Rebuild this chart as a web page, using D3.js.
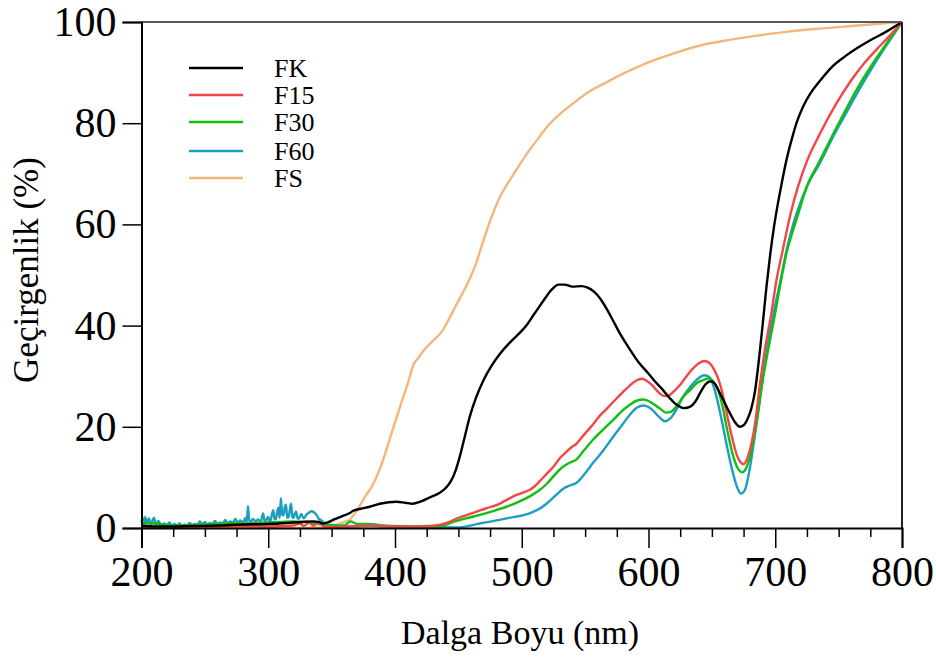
<!DOCTYPE html>
<html>
<head>
<meta charset="utf-8">
<script src="https://cdn.jsdelivr.net/npm/d3@7"></script>
<style>
  html, body { margin: 0; padding: 0; background: #fff; }
  svg text { font-family: "Liberation Serif", "Times New Roman", serif; fill: #000; }
</style>
</head>
<body>
<svg id="chart" width="936" height="657"></svg>
<script>
// ---------- DATA ----------
const seriesNames = ["FK", "F15", "F30", "F60", "FS"];
const seriesColors = ["#000000", "#f54646", "#12be12", "#1c9ec0", "#f3b67c"];
const xTicks = [200, 300, 400, 500, 600, 700, 800];
const yTicks = [0, 20, 40, 60, 80, 100];

// [wavelength nm, transmittance %]
const dataFK = [[200,0.4],[220,0.3],[240,0.4],[260,0.5],[280,0.7],[300,0.8],[315,1.0],[327,1.2],[335,1.3],[340,1.2],[343,0.9],[347,1.1],[352,1.7],[358,2.3],[364,2.9],[367,3.4],[373,3.8],[380,4.2],[388,4.8],[395,5.1],[401,5.2],[408,5.0],[414,4.8],[420,5.2],[428,6.1],[435,6.9],[440,7.9],[444,9.2],[448,11.5],[451,14],[455,18],[459,22],[464,25.8],[470,29.3],[476,32],[483,34.5],[490,36.5],[497,38.2],[503,39.8],[509,42],[514,43.8],[519,45.6],[524,47.2],[529,48.1],[534,48.1],[540,47.7],[547,47.8],[552,47.5],[557,46.7],[562,45.3],[567,43.3],[572,41],[578,38.2],[585,35.4],[592,32.8],[599,30.8],[605,29],[611,27.4],[617,25.6],[623,24.2],[628,23.7],[633,24.0],[637,25],[641,26.8],[645,28.4],[649,29],[652,28.6],[656,26.8],[660,24.8],[664,22.8],[668,21],[672,20],[675,20.3],[678,21.5],[681,23.5],[684,27],[687,33],[690,40],[693,47.5],[696,54],[699,59.5],[702,64],[705,68],[709,72.9],[713,76.8],[717,80.2],[722,83.3],[728,86],[735,88.3],[745,91.2],[755,93.2],[765,94.9],[775,96.4],[787,98],[800,100]];

const dataF15 = [[200,0.3],[220,0.1],[240,0.2],[260,0.3],[280,0.4],[300,0.3],[310,0.4],[320,0.5],[325,0.9],[328,0.4],[332,1.0],[336,0.5],[340,1.1],[344,0.3],[350,0.2],[370,0.4],[380,0.5],[390,0.4],[400,0.3],[414,0.3],[425,0.4],[435,0.6],[442,1.1],[449,1.9],[457,2.6],[464,3.2],[472,3.9],[480,4.5],[487,5.4],[493,6.2],[500,6.9],[506,7.5],[510,8.2],[514,9.2],[520,10.8],[525,12.1],[530,13.8],[535,15],[540,16.1],[543,16.6],[547,17.8],[551,19],[556,20.4],[562,22.3],[568,23.8],[574,25.4],[580,26.9],[585,28.1],[590,29.1],[595,29.5],[599,29.0],[603,28.2],[608,26.8],[612,26.1],[616,26.2],[620,27.0],[625,28.3],[630,30],[635,31.5],[640,32.6],[644,33.0],[648,32.6],[652,31.2],[655,29.5],[658,27],[661,23.5],[664,20],[667,16.8],[670,14.2],[673,12.9],[675,12.6],[677,13.2],[680,15.4],[684,20.5],[688,28.6],[692,35.5],[697,42.5],[701,49],[706,55],[712,62],[718,67.5],[725,72.5],[735,77.8],[748,83.8],[760,88.5],[770,91.8],[780,94.6],[790,97.2],[800,100]];

const dataF30 = [[200,1.0],[210,0.9],[220,0.6],[230,0.5],[240,0.6],[250,0.7],[260,0.8],[270,1.0],[280,0.9],[290,1.0],[300,1.1],[310,1.2],[320,1.3],[330,1.2],[340,0.8],[350,0.6],[360,0.5],[365,1.3],[370,0.8],[380,0.8],[390,0.5],[400,0.4],[420,0.3],[435,0.3],[446,1.2],[456,1.9],[467,2.6],[478,3.4],[488,4.2],[497,5.1],[506,6.2],[513,7.3],[520,8.8],[526,10.5],[531,11.8],[537,12.8],[543,13.5],[549,15.3],[556,17.4],[564,19.4],[572,21.3],[579,23.1],[585,24.3],[591,25.2],[596,25.4],[600,25.1],[604,24.5],[609,23.6],[614,22.8],[618,23.0],[622,24.0],[627,25.8],[633,27.3],[638,28.6],[643,29.2],[648,29.6],[652,28.6],[655,27.2],[658,24.5],[662,19.5],[666,15],[670,12],[674,11],[677,11.8],[680,14],[683,17.5],[686,22],[690,29],[695,36],[700,42.5],[705,49.5],[709,54.5],[713,58],[718,62],[725,67.5],[735,72.5],[746,78],[757,83.3],[767,87.8],[777,91.8],[788,95.8],[800,100]];

const dataF60 = [[200,1.2],[201,2.0],[202,0.6],[203,2.2],[204,0.8],[205,1.5],[206,1.9],[207,0.6],[208,1.0],[209,1.7],[210,2.0],[211,0.8],[212,0.7],[213,1.4],[214,1.2],[215,0.5],[216,0.6],[218,0.9],[220,0.5],[222,1.1],[224,0.4],[226,0.8],[228,0.5],[230,0.9],[232,0.4],[234,0.7],[236,0.5],[238,1.0],[240,0.5],[242,0.8],[244,0.6],[246,1.3],[248,0.7],[250,1.2],[252,0.6],[254,1.0],[256,0.8],[258,1.4],[260,0.7],[262,1.1],[264,0.8],[266,1.6],[268,0.9],[270,1.3],[272,1.0],[274,1.8],[276,1.1],[278,1.5],[280,1.0],[282,2.0],[283,1.2],[284,4.3],[285,1.5],[286,1.2],[288,1.8],[290,1.3],[292,1.7],[294,1.2],[296,2.9],[297,1.4],[298,1.5],[300,2.2],[301,1.2],[302,1.6],[303,2.8],[304,3.5],[305,1.7],[306,1.8],[307,3.1],[308,4.0],[309,2.0],[310,5.9],[311,2.6],[312,2.5],[313,4.1],[314,4.6],[315,2.0],[316,2.2],[317,3.5],[318,4.8],[319,2.2],[320,2.0],[321,2.9],[322,3.2],[323,2.0],[324,1.8],[326,2.8],[328,1.9],[330,2.6],[332,3.0],[334,3.3],[336,3.1],[338,2.6],[340,1.8],[342,1.5],[344,1.0],[346,0.5],[348,0.3],[350,0.3],[360,0.3],[380,0.4],[400,0.2],[420,0.1],[440,0.1],[449,0.1],[467,0.9],[488,1.9],[506,2.9],[514,3.8],[520,4.9],[527,6.5],[533,7.8],[538,8.4],[543,8.9],[550,10.8],[556,12.8],[564,15.2],[572,18],[579,20.3],[585,22.3],[591,23.8],[596,24.2],[600,23.9],[604,23.1],[609,21.8],[613,21.1],[617,21.6],[622,23.4],[627,25.8],[633,27.9],[639,29.5],[644,30.2],[648,29.8],[652,27.5],[655,24.5],[658,21],[662,16],[666,11.5],[670,8],[673,6.8],[676,7.5],[679,10.5],[682,15],[686,22],[690,29.5],[695,37.5],[700,44],[705,50],[709,55],[713,59],[718,63],[725,67.5],[735,72],[746,77.5],[757,82.5],[767,87],[777,91.2],[788,95.5],[800,100]];

const dataFS = [[200,0],[300,0],[340,0.1],[350,0.3],[356,0.8],[360,1.2],[364,1.6],[370,3.5],[376,6],[383,8.8],[390,13],[397,18.5],[404,24],[410,28.5],[415,32.5],[418,33.5],[424,35.5],[430,37],[437,38.8],[443,41.5],[449,44.4],[457,48.2],[464,52.3],[470,57],[477,62],[483,65.5],[488,67.7],[495,70.5],[502,73.2],[507,75],[513,77],[520,79.3],[530,81.8],[541,84],[553,86.2],[567,88.1],[580,89.8],[593,91.3],[604,92.4],[620,93.8],[643,95.5],[660,96.3],[683,97.2],[710,98.1],[735,98.7],[760,99.2],[780,99.6],[800,100]];

const seriesData = [dataFK, dataF15, dataF30, dataF60, dataFS];

// ---------- CHART ----------
const svg = d3.select("#chart");
const x = d3.scaleLinear().domain([200, 800]).range([141.5, 902]);
const y = d3.scaleLinear().domain([0, 100]).range([528, 22]);

const line = d3.line()
  .x(d => x(d[0]))
  .y(d => y(d[1]))
  .curve(d3.curveMonotoneX);

// draw order: FS, F60, F30, F15, FK (FK on top)
const order = [4, 3, 2, 1, 0];
svg.append("g").selectAll("path")
  .data(order)
  .join("path")
  .attr("d", i => line(seriesData[i]))
  .attr("fill", "none")
  .attr("stroke", i => seriesColors[i])
  .attr("stroke-width", 2.4)
  .attr("stroke-linejoin", "round");

// frame: top and right
svg.append("line").attr("x1", x(200)).attr("x2", x(800)).attr("y1", y(100)).attr("y2", y(100))
  .attr("stroke", "#5a5a5a").attr("stroke-width", 2);
svg.append("line").attr("x1", x(800)).attr("x2", x(800)).attr("y1", y(100)).attr("y2", y(0))
  .attr("stroke", "#222").attr("stroke-width", 2);

// x axis
const xAxis = d3.axisBottom(x).tickValues(xTicks).tickSize(20).tickPadding(8).tickFormat(d3.format("d"));
const gx = svg.append("g").attr("transform", `translate(0,${y(0)})`).call(xAxis);
gx.select(".domain").attr("stroke", "#000").attr("stroke-width", 2);
gx.selectAll(".tick line").attr("stroke", "#000").attr("stroke-width", 1.5);
gx.selectAll(".tick text").attr("font-size", 42).attr("font-family", "Liberation Serif");
const minorX = d3.range(200, 801, 25).filter(v => v % 100 !== 0);
const gxm = svg.append("g").attr("transform", `translate(0,${y(0)})`).call(
  d3.axisBottom(x).tickValues(minorX).tickSize(9).tickFormat(""));
gxm.select(".domain").remove();
gxm.selectAll(".tick line").attr("stroke", "#000").attr("stroke-width", 1.5);

// y axis
const yAxis = d3.axisLeft(y).tickValues(yTicks).tickSize(19).tickPadding(6).tickFormat(d3.format("d"));
const gy = svg.append("g").attr("transform", `translate(${x(200)},0)`).call(yAxis);
gy.select(".domain").attr("stroke", "#000").attr("stroke-width", 2);
gy.selectAll(".tick line").attr("stroke", "#000").attr("stroke-width", 1.5);
gy.selectAll(".tick text").attr("font-size", 42).attr("font-family", "Liberation Serif");

// axis titles
svg.append("text").attr("x", 520).attr("y", 644).attr("text-anchor", "middle")
  .attr("font-size", 34).text("Dalga Boyu (nm)");
svg.append("text").attr("transform", "translate(38,270) rotate(-90)").attr("text-anchor", "middle")
  .attr("font-size", 35).text("Geçirgenlik (%)");

// legend
const legendY = [68, 95, 122, 151, 178];
const lg = svg.append("g");
seriesNames.forEach((name, i) => {
  lg.append("line").attr("x1", 189).attr("x2", 243).attr("y1", legendY[i]).attr("y2", legendY[i])
    .attr("stroke", seriesColors[i]).attr("stroke-width", 2.6);
  lg.append("text").attr("x", 274).attr("y", legendY[i] + 9).attr("font-size", 26).text(name);
});
</script>
</body>
</html>
